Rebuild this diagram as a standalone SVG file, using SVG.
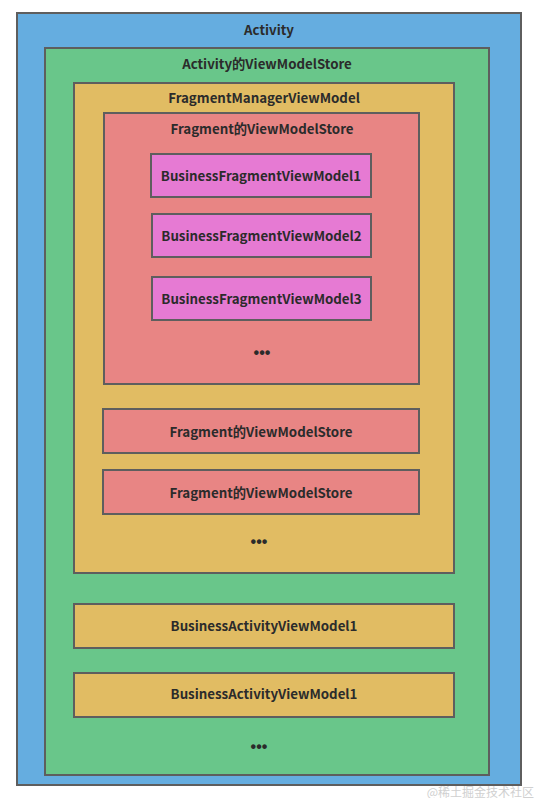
<svg xmlns="http://www.w3.org/2000/svg" width="538" height="798" viewBox="0 0 538 798">
<style>
.box{stroke:#5e5e5e;stroke-width:2}
.blue{fill:#65ade0}
.green{fill:#69c68a}
.yellow{fill:#e1bc63}
.red{fill:#e88584}
.pink{fill:#e67ad3}
text{font-family:"Noto Sans CJK SC","Microsoft YaHei","Noto Sans",sans-serif;font-weight:bold;font-size:13.3px;fill:#2b2b2b;text-anchor:middle;dominant-baseline:central}
.dots{font-family:"Liberation Sans",Arial,sans-serif;font-size:16px}
.wm{font-size:12px;font-weight:normal;fill:#d0d0d0;text-anchor:end}
</style>
<rect width="538" height="798" fill="#ffffff"/>
<g id="activity">
<rect class="box blue" x="17" y="13" width="504" height="772"/>
<text x="269" y="29">Activity</text>
</g>
<g id="activity-store">
<rect class="box green" x="45" y="48" width="444" height="727"/>
<text x="267" y="63">Activity的ViewModelStore</text>
</g>
<g id="fragment-manager-viewmodel">
<rect class="box yellow" x="74" y="83" width="380" height="490"/>
<text x="264" y="97">FragmentManagerViewModel</text>
</g>
<g id="fragment-store-1">
<rect class="box red" x="104" y="113" width="315" height="271"/>
<text x="262" y="128">Fragment的ViewModelStore</text>
</g>
<g id="bfvm1">
<rect class="box pink" x="151" y="154" width="220" height="43"/>
<text x="261" y="175">BusinessFragmentViewModel1</text>
</g>
<g id="bfvm2">
<rect class="box pink" x="152" y="214" width="219" height="43"/>
<text x="261.5" y="235">BusinessFragmentViewModel2</text>
</g>
<g id="bfvm3">
<rect class="box pink" x="152" y="277" width="219" height="43"/>
<text x="261.5" y="298">BusinessFragmentViewModel3</text>
</g>
<g id="dots-fragment">
<text class="dots" x="262" y="352">•••</text>
</g>
<g id="fragment-store-2">
<rect class="box red" x="103" y="409" width="316" height="44"/>
<text x="261" y="431">Fragment的ViewModelStore</text>
</g>
<g id="fragment-store-3">
<rect class="box red" x="103" y="470" width="316" height="44"/>
<text x="261" y="492">Fragment的ViewModelStore</text>
</g>
<g id="dots-fmvm">
<text class="dots" x="259" y="541">•••</text>
</g>
<g id="bavm1">
<rect class="box yellow" x="74" y="604" width="380" height="44"/>
<text x="264" y="625">BusinessActivityViewModel1</text>
</g>
<g id="bavm2">
<rect class="box yellow" x="74" y="673" width="380" height="44"/>
<text x="264" y="693">BusinessActivityViewModel1</text>
</g>
<g id="dots-activity">
<text class="dots" x="259" y="746">•••</text>
</g>
<g id="connectors"></g>
<text class="wm" x="534" y="791">@稀土掘金技术社区</text>
</svg>
